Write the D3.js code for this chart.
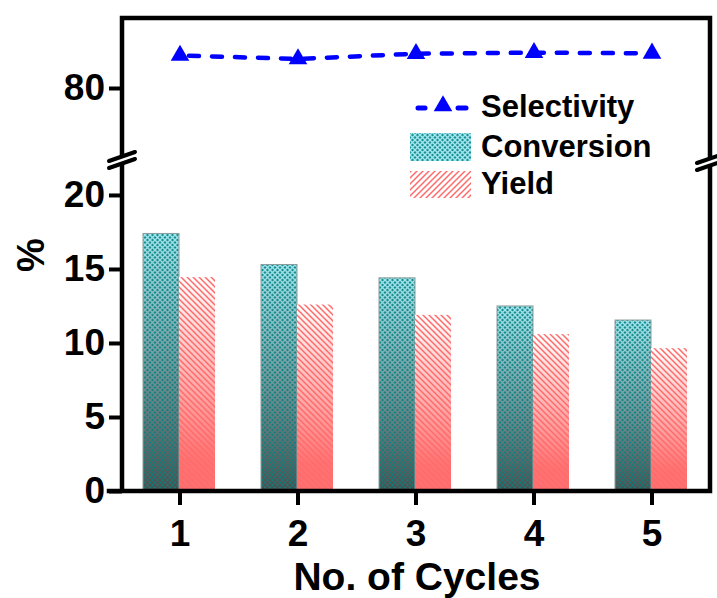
<!DOCTYPE html>
<html>
<head>
<meta charset="utf-8">
<script src="https://cdn.jsdelivr.net/npm/d3@7"></script>
<style>
  html, body { margin: 0; padding: 0; background: #fff; }
  svg { display: block; font-family: "Liberation Sans", Arial, sans-serif; font-weight: bold; }
</style>
</head>
<body>
<svg id="chart" width="717" height="598"></svg>
<script>
// ---- data ----
const cycles = ["1", "2", "3", "4", "5"];
const conversion = [17.4, 15.3, 14.4, 12.5, 11.55];
const yieldVals = [14.45, 12.6, 11.9, 10.6, 9.65];
const selectivity = [89.3, 88.3, 89.8, 90.1, 89.9];
const lowerTicks = [0, 5, 10, 15, 20];
const upperTicks = [80];
const seriesNames = ["Selectivity", "Conversion", "Yield"];
const xTitle = "No. of Cycles";
const yTitle = "%";

// ---- layout ----
const L = 122, R = 710, T = 18, B = 491;
const svg = d3.select("#chart");
const defs = svg.append("defs");

// patterns
function crossPattern(id, bg, fg) {
  const p = defs.append("pattern").attr("id", id).attr("patternUnits", "userSpaceOnUse")
    .attr("width", 5).attr("height", 5);
  p.append("rect").attr("width", 5).attr("height", 5).attr("fill", bg);
  p.append("path").attr("d", "M0,0L5,5M5,0L0,5").attr("stroke", fg).attr("stroke-width", 1.4);
}
crossPattern("convLight", "#17918f", "#a4e6f0");
crossPattern("convDark", "#0f7c79", "#4d4d4d");

function stripePattern(id, dir) {
  const p = defs.append("pattern").attr("id", id).attr("patternUnits", "userSpaceOnUse")
    .attr("width", 6).attr("height", 6);
  if (dir > 0) p.append("path").attr("d", "M-1,1L1,-1M0,6L6,0M5,7L7,5");
  else p.append("path").attr("d", "M-1,5L1,7M0,0L6,6M5,-1L7,1");
  p.select("path").attr("stroke", "#ff6b6b").attr("stroke-width", 1.5).attr("fill", "none");
}
stripePattern("yieldStripeBar", -1);
stripePattern("yieldStripeLeg", 1);

const yg = defs.append("linearGradient").attr("id", "yieldGrad").attr("x1", 0).attr("y1", 0).attr("x2", 0).attr("y2", 1);
yg.append("stop").attr("offset", 0).attr("stop-color", "#ffffff");
yg.append("stop").attr("offset", 0.85).attr("stop-color", "#ff7272");
yg.append("stop").attr("offset", 1).attr("stop-color", "#ff7070");

const mg = defs.append("linearGradient").attr("id", "maskGrad").attr("x1", 0).attr("y1", 0).attr("x2", 0).attr("y2", 1);
mg.append("stop").attr("offset", 0).attr("stop-color", "#fff").attr("stop-opacity", 0);
mg.append("stop").attr("offset", 1).attr("stop-color", "#fff").attr("stop-opacity", 1);
const mask = defs.append("mask").attr("id", "fadeMask").attr("maskContentUnits", "objectBoundingBox");
mask.append("rect").attr("width", 1).attr("height", 1).attr("fill", "url(#maskGrad)");

// ---- scales ----
const x0 = d3.scaleBand().domain(cycles).range([L - 1, R + 1]).paddingInner(0.39).paddingOuter(0.195);
const x1 = d3.scaleBand().domain(["c", "y"]).range([0, x0.bandwidth()]);
const yLow = d3.scaleLinear().domain([0, 22.2]).range([B, 162.4]);
const yUp = d3.scaleLinear().domain([60, 100]).range([158, 18]);

// ---- bars ----
const gBars = svg.append("g");
cycles.forEach((c, i) => {
  const xc = x0(c) + x1("c") - 1, xy = x0(c) + x1("y") - 1, w = x1.bandwidth();
  gBars.append("rect").attr("x", xc).attr("y", yLow(conversion[i])).attr("width", w)
    .attr("height", yLow(0) - yLow(conversion[i])).attr("fill", "url(#convLight)");
  gBars.append("rect").attr("x", xc).attr("y", yLow(conversion[i])).attr("width", w)
    .attr("height", yLow(0) - yLow(conversion[i])).attr("fill", "url(#convDark)").attr("mask", "url(#fadeMask)");
  gBars.append("rect").attr("x", xc).attr("y", yLow(conversion[i])).attr("width", w)
    .attr("height", yLow(0) - yLow(conversion[i])).attr("fill", "none").attr("stroke", "#8a9a9a").attr("stroke-width", 1);
  gBars.append("rect").attr("x", xy).attr("y", yLow(yieldVals[i])).attr("width", w)
    .attr("height", yLow(0) - yLow(yieldVals[i])).attr("fill", "url(#yieldGrad)");
  gBars.append("rect").attr("x", xy).attr("y", yLow(yieldVals[i])).attr("width", w)
    .attr("height", yLow(0) - yLow(yieldVals[i])).attr("fill", "url(#yieldStripeBar)");
});

// ---- selectivity line ----
const xc = c => x0(c) + x0.bandwidth() / 2;
const line = d3.line().x((d, i) => xc(cycles[i])).y(d => yUp(d));
svg.append("path").datum(selectivity).attr("d", line).attr("fill", "none")
  .attr("stroke", "#0000ff").attr("stroke-width", 4.5).attr("stroke-linecap", "round")
  .attr("stroke-dasharray", "10 13").attr("stroke-dashoffset", -9);
svg.append("g").selectAll("path").data(selectivity).join("path")
  .attr("transform", (d, i) => `translate(${xc(cycles[i])},${yUp(d)})`)
  .attr("d", d3.symbol(d3.symbolTriangle, 150)).attr("fill", "#0000ff");

// ---- axes ----
const axisStyle = g => {
  g.select(".domain").remove();
  g.selectAll(".tick line").attr("stroke", "#000").attr("stroke-width", 4);
  g.selectAll("text").attr("fill", "#000").style("font-size", "37px").style("font-weight", "bold")
    .style("font-family", '"Liberation Sans", Arial, sans-serif');
};
svg.append("g").attr("transform", `translate(${L},0)`)
  .call(d3.axisLeft(yLow).tickValues(lowerTicks).tickSize(13).tickPadding(4).tickFormat(d3.format("d")))
  .call(axisStyle);
svg.append("g").attr("transform", `translate(${L},0)`)
  .call(d3.axisLeft(yUp).tickValues(upperTicks).tickSize(13).tickPadding(4).tickFormat(d3.format("d")))
  .call(axisStyle);
const xa = svg.append("g").attr("transform", `translate(0,${B})`)
  .call(d3.axisBottom(x0).tickSize(14).tickPadding(4))
  .call(axisStyle);
xa.selectAll("text").attr("y", 55).attr("dy", 0);

// frame
svg.append("path").attr("d", `M${L},${B}V${T}H${R}V${B}H${L - 13}`).attr("fill", "none")
  .attr("stroke", "#000").attr("stroke-width", 4.5).attr("stroke-linejoin", "miter").attr("stroke-linecap", "square");

// break marks
function breakMark(x, y) {
  const g = svg.append("g").attr("transform", `translate(${x},${y})`);
  g.append("path").attr("d", "M-12,1L12,-8L12,-1L-12,8Z").attr("fill", "#fff");
  g.append("path").attr("d", "M-13,1L13,-8M-13,8L13,-1").attr("stroke", "#000").attr("stroke-width", 4).attr("stroke-linecap", "round");
}
breakMark(L, 160);
breakMark(R, 162);

// titles
svg.append("text").attr("x", 417).attr("y", 590).attr("text-anchor", "middle")
  .style("font-size", "39px").text(xTitle);
svg.append("text").attr("transform", "translate(44,255) rotate(-90)").attr("text-anchor", "middle")
  .style("font-size", "38px").text(yTitle);

// legend
const lg = svg.append("g");
[[418, 425], [458, 466]].forEach(s => {
  lg.append("line").attr("x1", s[0]).attr("x2", s[1]).attr("y1", 108).attr("y2", 108)
    .attr("stroke", "#0000ff").attr("stroke-width", 5).attr("stroke-linecap", "round");
});
lg.append("path").attr("transform", "translate(443,106)").attr("d", d3.symbol(d3.symbolTriangle, 150)).attr("fill", "#0000ff");
lg.append("rect").attr("x", 410).attr("y", 133).attr("width", 61).attr("height", 28).attr("fill", "url(#convLight)");
lg.append("rect").attr("x", 410).attr("y", 171).attr("width", 61).attr("height", 27).attr("fill", "#fff");
lg.append("rect").attr("x", 410).attr("y", 171).attr("width", 61).attr("height", 27).attr("fill", "url(#yieldStripeLeg)");
const legY = [117, 157, 194];
seriesNames.forEach((n, i) => {
  lg.append("text").attr("x", 481).attr("y", legY[i]).style("font-size", "31px").text(n);
});
</script>
</body>
</html>
